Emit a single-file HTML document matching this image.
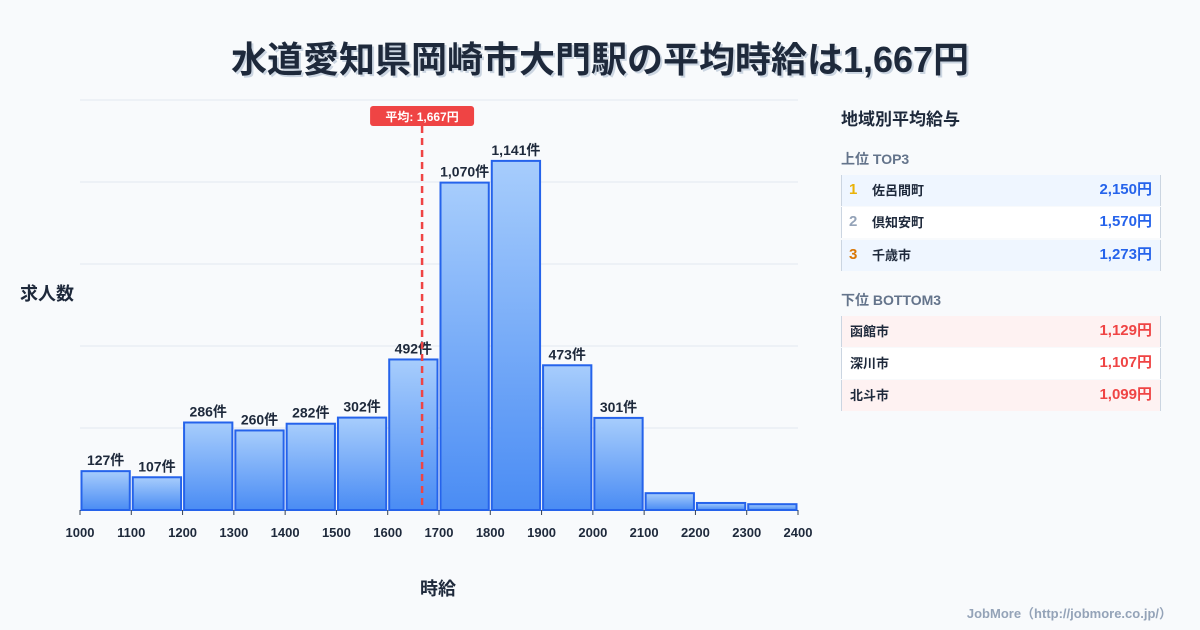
<!DOCTYPE html>
<html><head><meta charset="utf-8">
<style>
body{margin:0;background:#f8fafc;font-family:"Liberation Sans","Noto Sans CJK JP",sans-serif;}
#root{position:relative;width:1200px;height:630px;overflow:hidden;background:#f8fafc;}
.t{position:absolute;white-space:nowrap;}
.row{position:absolute;left:841px;width:320px;height:31px;font-size:13px;font-weight:bold;color:#1e293b;border-left:1px solid #cbd5e1;border-right:1px solid #cbd5e1;box-sizing:border-box;}
.row span{position:absolute;top:7px;line-height:17px;}
.row .v{right:8px;font-size:15px;top:6px;}
.row .n{left:7px;font-size:15px;top:6px;}
</style></head><body>
<div id="root">
<div class="t" style="left:0;width:1200px;text-align:center;top:31px;font-size:36px;font-weight:bold;color:#1e293b;text-shadow:2px 2px 0 #cbd5e1;">水道愛知県岡崎市大門駅の平均時給は1,667円</div>
<div class="t" style="left:20px;top:280px;font-size:18px;font-weight:bold;color:#1e293b;">求人数</div>
<div class="t" style="left:420px;top:575px;font-size:18px;font-weight:bold;color:#1e293b;">時給</div>
<svg id="chart" width="1200" height="630" style="position:absolute;left:0;top:0">
<defs><linearGradient id="g" x1="0" y1="0" x2="0" y2="1"><stop offset="0" stop-color="#a7cdfc"/><stop offset="1" stop-color="#4a8cf4"/></linearGradient></defs>
</svg>
<div class="t" style="left:841px;top:105px;font-size:17px;font-weight:bold;color:#1e293b;">地域別平均給与</div>
<div class="t" style="left:841px;top:149px;font-size:14px;font-weight:bold;color:#64748b;">上位 TOP3</div>
<div class="row" style="top:175px;background:#eff6ff"><span class="n" style="color:#eab308">1</span><span style="left:30px">佐呂間町</span><span class="v" style="color:#2563eb">2,150円</span></div>
<div class="row" style="top:207px;background:#fff"><span class="n" style="color:#94a3b8">2</span><span style="left:30px">倶知安町</span><span class="v" style="color:#2563eb">1,570円</span></div>
<div class="row" style="top:240px;background:#eff6ff"><span class="n" style="color:#d97706">3</span><span style="left:30px">千歳市</span><span class="v" style="color:#2563eb">1,273円</span></div>
<div class="t" style="left:841px;top:290px;font-size:14px;font-weight:bold;color:#64748b;">下位 BOTTOM3</div>
<div class="row" style="top:316px;background:#fef2f2"><span style="left:8px">函館市</span><span class="v" style="color:#ef4444">1,129円</span></div>
<div class="row" style="top:348px;background:#fff"><span style="left:8px">深川市</span><span class="v" style="color:#ef4444">1,107円</span></div>
<div class="row" style="top:380px;background:#fef2f2"><span style="left:8px">北斗市</span><span class="v" style="color:#ef4444">1,099円</span></div>
<div class="t" style="right:28px;top:603px;font-size:13px;font-weight:bold;color:#94a3b8;">JobMore（http://jobmore.co.jp/）</div>
</div>
<script>
const binStarts=[1000,1100,1200,1300,1400,1500,1600,1700,1800,1900,2000,2100,2200,2300];
const counts=[127,107,286,260,282,302,492,1070,1141,473,301,55,23,19];
const xTicks=[1000,1100,1200,1300,1400,1500,1600,1700,1800,1900,2000,2100,2200,2300,2400];
const meanValue=1667;
const yMax=1340;
const NS="http://www.w3.org/2000/svg";
const svg=document.getElementById('chart');
const X0=80,X1=798,Y0=510,Y1=100;
const x=v=>X0+(v-1000)/(2400-1000)*(X1-X0);
const y=v=>Y0-v/yMax*(Y0-Y1);
function mk(t,a){const e=document.createElementNS(NS,t);for(const k in a)e.setAttribute(k,a[k]);svg.appendChild(e);return e;}
for(let i=0;i<=5;i++){const gy=Y0-i*(Y0-Y1)/5;
const l=mk('line',{x1:X0,x2:X1,y1:gy,y2:gy,stroke:'#e2e8f0','stroke-width':1});

}
const bw=x(1100)-x(1000);
binStarts.forEach((b,i)=>{
const r=mk('rect',{x:x(b)+1.5,y:y(counts[i]),width:bw-3,height:Y0-y(counts[i]),fill:'url(#g)',stroke:'#2563eb','stroke-width':2});


if(counts[i]>=100){const t=mk('text',{x:x(b)+bw/2,y:y(counts[i])-6,'text-anchor':'middle','font-size':14,'font-weight':'bold',fill:'#1e293b'});t.textContent=counts[i].toLocaleString('en-US')+'件';

}
});
xTicks.forEach(v=>{
const tk=mk('line',{x1:x(v),x2:x(v),y1:Y0,y2:Y0+5,stroke:'#334155','stroke-width':1});


const t=mk('text',{x:x(v),y:537,'text-anchor':'middle','font-size':13,'font-weight':'bold',fill:'#1e293b'});t.textContent=v;

});
const mx=x(meanValue);
const ml=mk('line',{x1:mx,x2:mx,y1:126,y2:Y0,stroke:'#ef4444','stroke-width':2.5,'stroke-dasharray':'7,5'});


const mb=mk('rect',{x:mx-52,y:106,width:104,height:20,rx:3,fill:'#ef4444'});


const mt=mk('text',{x:mx,y:121,'text-anchor':'middle','font-size':12,'font-weight':'bold',fill:'#fff'});mt.textContent='平均: '+meanValue.toLocaleString('en-US')+'円';


</script>
</body></html>
